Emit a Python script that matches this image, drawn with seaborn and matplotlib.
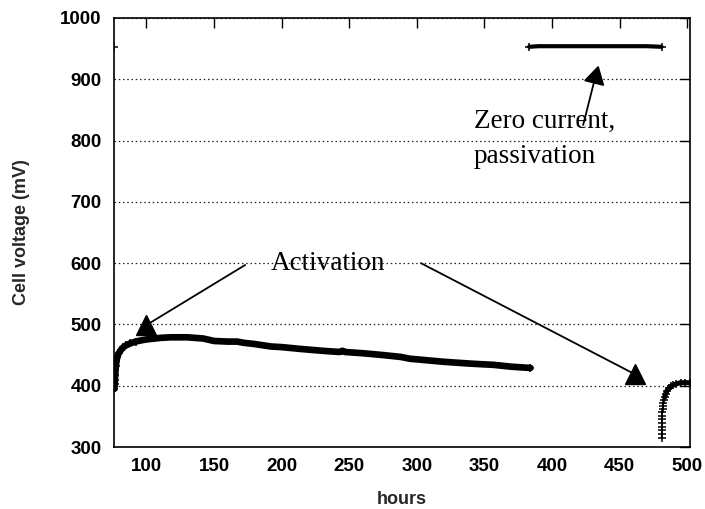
import matplotlib
matplotlib.use("Agg")
import matplotlib.pyplot as plt
import seaborn as sns

# Activation run: cell voltage under load
act_hours = [76.3, 76.5, 76.7, 76.9, 77.1, 77.4, 77.8, 78.5, 79.5, 81, 83, 85, 88, 92, 96,
             100, 110, 118, 130, 142, 150, 160, 167, 172, 180, 192, 200, 214, 230, 243,
             245, 247, 260, 275, 288, 295, 310, 320, 340, 357, 370, 384]
act_mv = [395, 402, 410, 418, 425, 432, 440, 447, 453, 458, 463, 466, 469, 472, 474,
          475.5, 478, 479, 479, 477, 473, 472, 472, 470, 468, 464, 463, 460, 457, 455,
          457, 455, 453, 450, 447, 444, 441, 439, 436, 434, 431, 429]

# Open-circuit (zero current) periods
ocv_start_hours = [76.2]
ocv_start_mv = [953]
ocv_hours = [383, 390, 400, 420, 440, 460, 470, 481]
ocv_mv = [953, 954, 954, 954, 954, 954, 954, 953]

# Re-activation after passivation
react_hours = [481, 481, 481.1, 481.1, 481.2, 481.3, 481.4, 481.5, 481.7, 481.9, 482.2,
               482.6, 483.2, 484, 485, 486.5, 488, 489.5, 492, 495, 498, 502]
react_mv = [315, 321, 327, 333, 339, 345, 351, 357, 362, 367, 372, 377, 381, 387, 392,
            396, 399, 401, 403, 405, 405, 405]

x_ticks = [100, 150, 200, 250, 300, 350, 400, 450, 500]
y_ticks = [300, 400, 500, 600, 700, 800, 900, 1000]

sns.set_style("white")
plt.rcParams["font.family"] = ["Liberation Sans", "DejaVu Sans"]
plt.rcParams["font.weight"] = "bold"

fig = plt.figure(figsize=(7.05, 5.09), dpi=100)
ax = fig.add_axes([114 / 705, 1 - 447 / 509, 576 / 705, 429 / 509])

line_kw = dict(color="black", marker="+", markersize=6, markeredgewidth=1.1,
               markeredgecolor="black", markerfacecolor="black",
               estimator=None, sort=False, legend=False)
sns.lineplot(x=act_hours, y=act_mv, ax=ax, linewidth=4.8,
             markevery=list(range(0, 14)) + [len(act_hours) - 1], **line_kw)
sns.lineplot(x=ocv_hours, y=ocv_mv, ax=ax, linewidth=3.0,
             markevery=[0, len(ocv_hours) - 1], **line_kw)
sns.lineplot(x=react_hours, y=react_mv, ax=ax, linewidth=1.0, **line_kw)
# thicker stroke for the dense flat part of the recovery curve
sns.lineplot(x=react_hours[12:], y=react_mv[12:], ax=ax, linewidth=3.6,
             markevery=[len(react_hours) - 13], **line_kw)
ax.plot(ocv_start_hours, ocv_start_mv, linestyle="none", color="black",
        marker="+", markersize=6, markeredgewidth=1.1)

ax.set_xlim(76, 502)
ax.set_ylim(300, 1000)
ax.set_xticks(x_ticks)
ax.set_yticks(y_ticks)
ax.tick_params(direction="in", length=7, width=1, top=True, right=True,
               labelsize=13.5, colors="black")
ax.tick_params(axis="x", pad=8)
ax.tick_params(axis="y", pad=9)
ax.yaxis.grid(True, linestyle=(0, (1.2, 2.2)), linewidth=0.9, color="#222222")
ax.xaxis.grid(False)
for s in ax.spines.values():
    s.set_color("black")
    s.set_linewidth(1.2)

ax.set_xlabel("hours", fontsize=13, fontweight="bold", va="center")
ax.set_ylabel("Cell voltage (mV)", fontsize=13, fontweight="bold", va="center")
ax.xaxis.set_label_coords(0.5, -52 / 429)
ax.yaxis.set_label_coords(-92.5 / 576, 0.5)

serif = dict(family=["Liberation Serif", "DejaVu Serif"], fontsize=19.5,
             fontweight="normal", color="black")
ax.text(234, 589, "Activation", ha="center", va="baseline", **serif)
ax.text(342, 820.6, "Zero current,", ha="left", va="baseline", **serif)
ax.text(342, 763.5, "passivation", ha="left", va="baseline", **serif)

# Arrow shafts with filled triangular heads
arrow_kw = dict(arrowstyle="-", color="black", lw=1.3, shrinkA=0, shrinkB=0)
ax.annotate("", xy=(100, 499), xytext=(173, 597), arrowprops=arrow_kw)
ax.annotate("", xy=(461, 419), xytext=(303, 600), arrowprops=arrow_kw)
ax.annotate("", xy=(432, 904), xytext=(423, 825.5), arrowprops=arrow_kw)
ax.plot([100], [499], marker="^", markersize=15, color="black", linestyle="none")
ax.plot([461], [419], marker="^", markersize=15, color="black", linestyle="none")
ax.plot([432], [904], marker=(3, 0, -14), markersize=16, color="black", linestyle="none")

fig.savefig("out.png", dpi=100)
